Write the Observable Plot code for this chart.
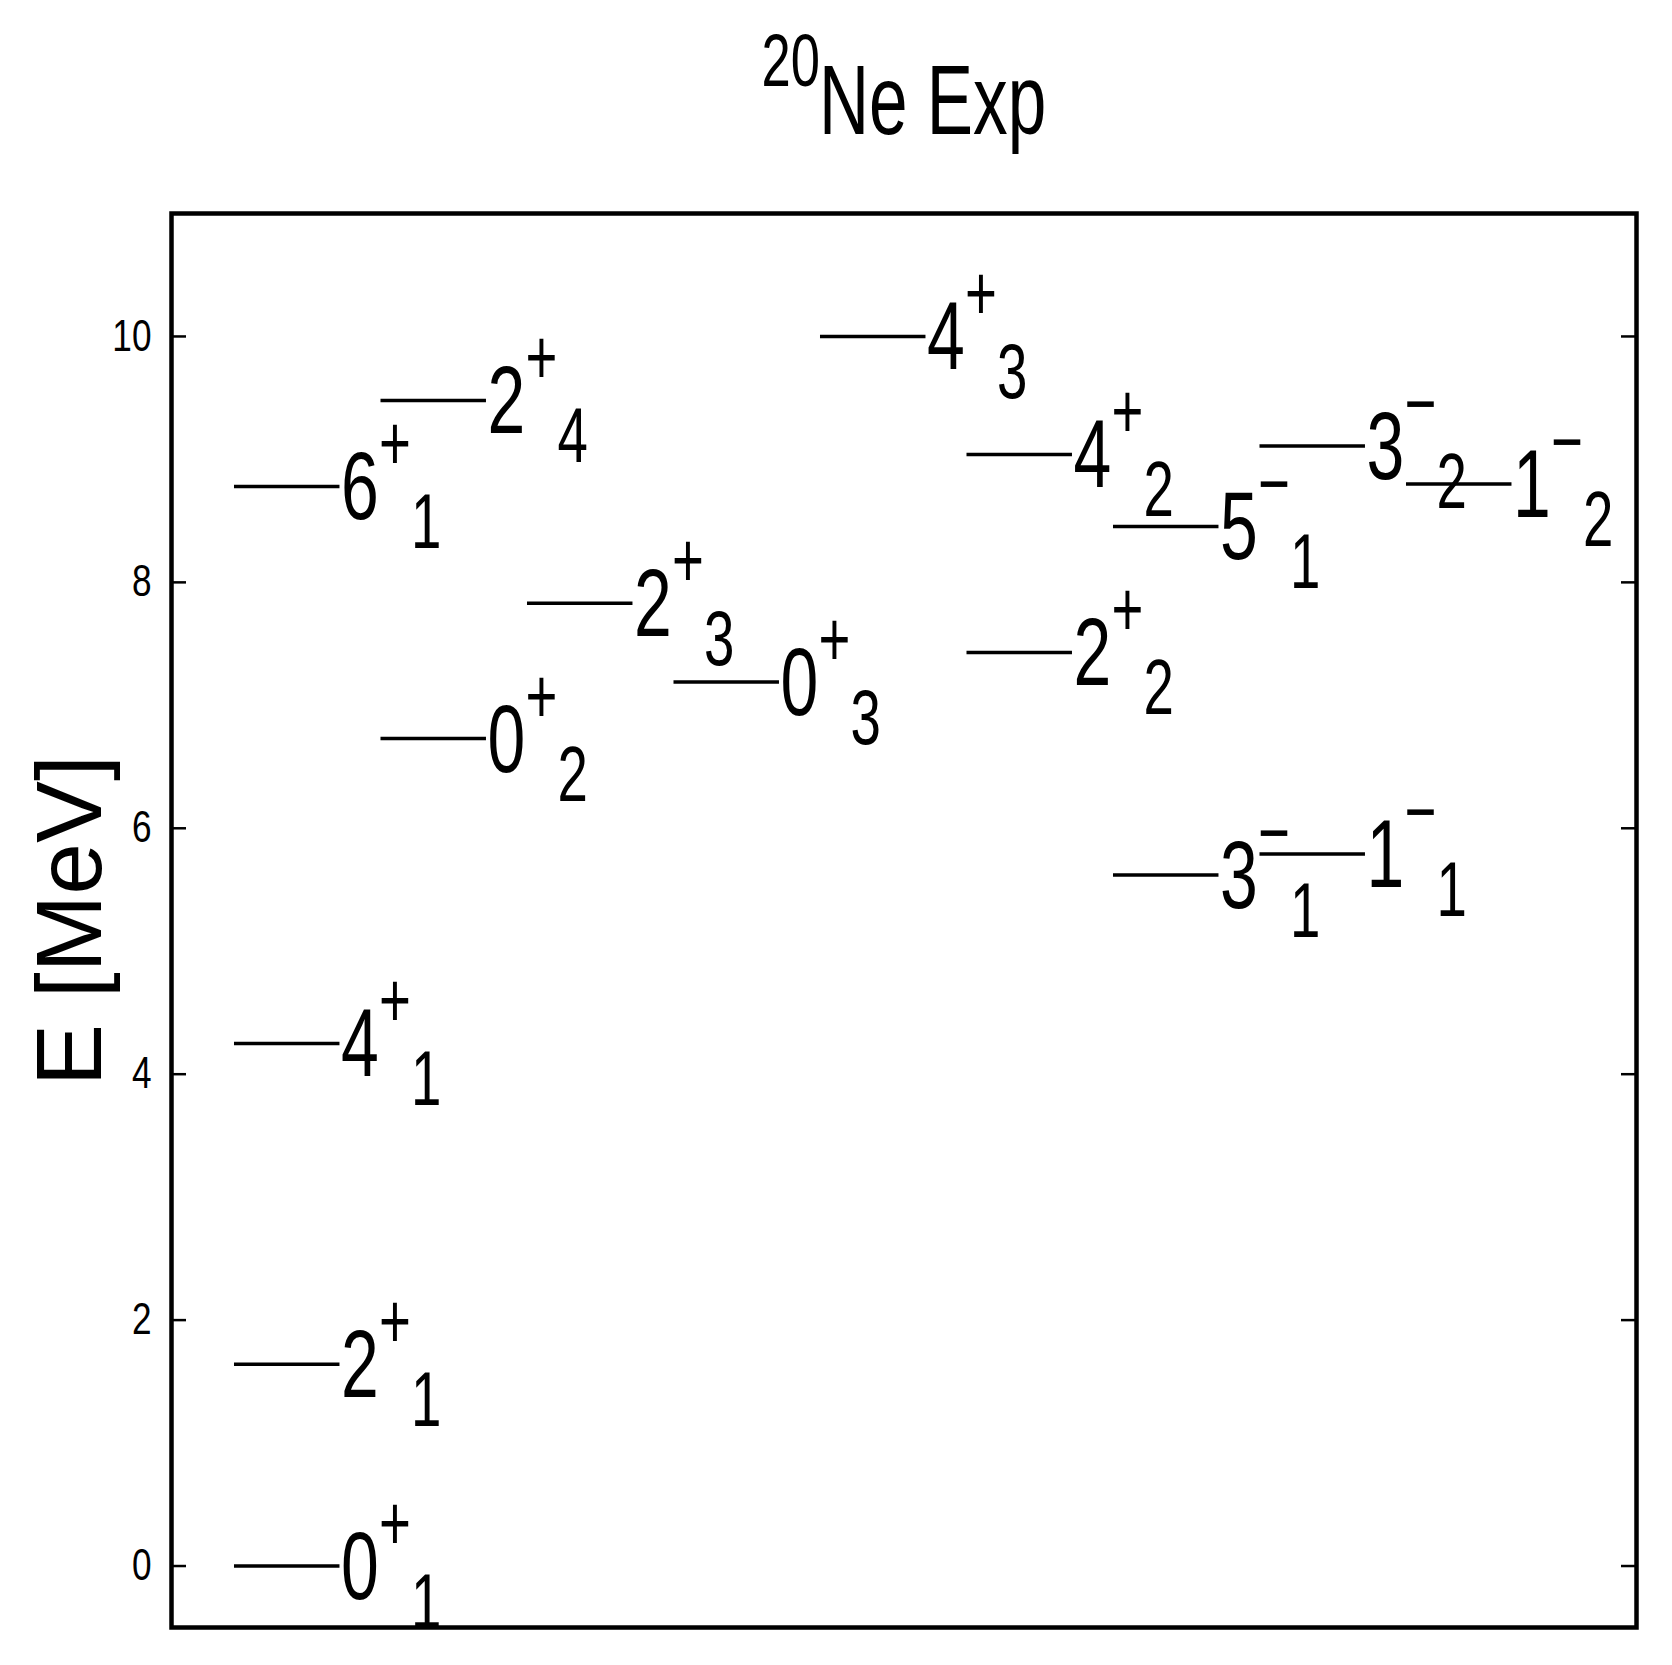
<!DOCTYPE html>
<html><head><meta charset="utf-8">
<script src="https://cdn.jsdelivr.net/npm/d3@7"></script>
<script src="https://cdn.jsdelivr.net/npm/@observablehq/plot@0.6"></script>
<style>html,body{margin:0;padding:0;background:#fff;} svg{display:block}</style>
</head><body><div id="chart"></div>
<script>
// Level data
const spins    = ["0","2","4","6","0","2","2","0","4","4","2","5","3","3","1","1"];
const parities = ["+","+","+","+","+","+","+","+","+","+","+","\u2212","\u2212","\u2212","\u2212","\u2212"];
const indices  = ["1","1","1","1","2","4","3","3","3","2","2","1","1","2","1","2"];
const energies = [0.0, 1.64, 4.25, 8.78, 6.73, 9.48, 7.83, 7.19, 10.0, 9.04, 7.43, 8.455, 5.62, 9.11, 5.79, 8.80];
const columns  = [0, 0, 0, 0, 1, 1, 2, 3, 4, 5, 5, 6, 6, 7, 7, 8];
const yTicks   = [0, 2, 4, 6, 8, 10];
const titleIso = "20";
const titleMain = "Ne Exp";
const yLabel = "E [MeV]";

const W = 1672, H = 1665, mL = 171, mR = 36, mT = 213, mB = 38;
const plotW = W - mL - mR;
const lineStart = 0.43, lineEnd = 1.15;
const levels = energies.map((E, i) => ({E, col: columns[i], J: spins[i], p: parities[i], n: indices[i]}));
const font = "'Liberation Sans', Arial, Helvetica, sans-serif";

const chart = Plot.plot({
  width: W, height: H,
  marginLeft: mL, marginRight: mR, marginTop: mT, marginBottom: mB,
  style: {fontFamily: font, background: "white", color: "black"},
  x: {domain: [0, 10], axis: null},
  y: {domain: [-0.5, 11], axis: null},
  marks: [
    Plot.ruleY(levels, {y: "E", x1: d => d.col + lineStart, x2: d => d.col + lineEnd, stroke: "black", strokeWidth: 3.5}),
    Plot.text(levels, {x: d => d.col + lineEnd, y: "E", text: "J", textAnchor: "start", lineAnchor: "bottom", fontSize: 97, dx: 1, dy: 33, fill: "black"}),
    Plot.text(levels, {x: d => d.col + lineEnd, y: "E", text: "p", textAnchor: "start", lineAnchor: "bottom", fontSize: 78, dx: 39, dy: -16, fill: "black"}),
    Plot.text(levels, {x: d => d.col + lineEnd, y: "E", text: "n", textAnchor: "start", lineAnchor: "bottom", fontSize: 78, dx: 71, dy: 62, fill: "black"}),
    Plot.ruleY(yTicks, {y: d => d, insetRight: plotW - 15, stroke: "black", strokeWidth: 2.5}),
    Plot.ruleY(yTicks, {y: d => d, insetLeft: plotW - 15, stroke: "black", strokeWidth: 2.5}),
    Plot.axisY(yTicks, {tickSize: 0, tickPadding: 20, fontSize: 44, label: null, fill: "black", tickFormat: d => String(d)}),
    Plot.text([yLabel], {frameAnchor: "left", rotate: -90, textAnchor: "middle", dx: -71, lineAnchor: "bottom", fontSize: 93, fill: "black"}),
    Plot.text([titleMain], {frameAnchor: "top", textAnchor: "start", lineAnchor: "bottom", dx: -85, dy: -80, fontSize: 99, fill: "black"}),
    Plot.text([titleIso], {frameAnchor: "top", textAnchor: "end", lineAnchor: "bottom", dx: -84, dy: -128, fontSize: 75, fill: "black"}),
    Plot.frame({stroke: "black", strokeWidth: 4.5})
  ]
});
document.getElementById("chart").append(chart);
// narrow (condensed) glyph rendering as in the reference; rotated axis title keeps its width
chart.querySelectorAll("text").forEach(t => {
  const tr = t.getAttribute("transform") || "";
  if (tr.includes("rotate")) return;
  const g = t.closest("g[aria-label]");
  const lab = g ? g.getAttribute("aria-label") : "";
  const len = t.getComputedTextLength();
  if (!(len > 0)) return;
  const k = (lab && lab.includes("y-axis")) ? 0.8 : 0.7;
  t.setAttribute("textLength", (len * k).toFixed(2));
  t.setAttribute("lengthAdjust", "spacingAndGlyphs");
});
</script>
</body></html>
